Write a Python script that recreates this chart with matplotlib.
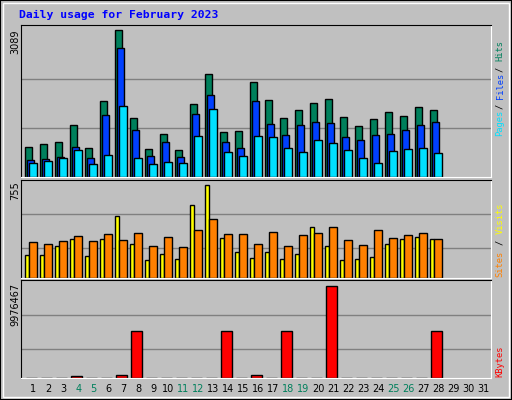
import matplotlib
matplotlib.use("Agg")
import matplotlib.pyplot as plt
import numpy as np

days = list(range(1, 32))
hits  = [636,699,741,1097,615,1600,3089,1244,594,909,573,1538,2166,950,971,1999,1621,1244,1412,1558,1642,1265,1076,1223,1370,1279,1475,1412]
files = [363,384,426,636,405,1307,2712,992,447,741,426,1328,1726,741,615,1600,1118,888,1097,1160,1139,846,783,888,909,992,1097,1160]
pages = [300,342,405,573,280,468,1496,405,280,321,300,867,1433,531,447,867,846,615,531,783,720,573,405,300,552,594,615,510]
visits= [189,189,263,320,181,320,501,279,148,197,156,591,755,328,213,164,213,156,197,410,263,148,156,172,279,320,336,320]
sites = [295,279,304,345,304,361,312,369,263,336,254,386,476,361,361,279,377,263,353,369,418,312,271,386,328,353,369,320]
kbytes= [20000,20000,20000,219000,20000,20000,329000,5043000,20000,20000,20000,20000,20000,5043000,20000,329000,20000,5043000,20000,20000,9976467,20000,20000,20000,20000,20000,20000,5043000]
weekend = [4,5,11,12,18,19,25,26]

W, H = 512, 400
fig = plt.figure(figsize=(W/100, H/100), dpi=100, facecolor="#c0c0c0")
mono = "DejaVu Sans Mono"
GREEN, BLUE, CYAN = "#00805c", "#0040ff", "#00e0ff"
YEL, ORA, RED = "#ffff00", "#ff8000", "#ff0000"

fig.add_artist(plt.Rectangle((0, 0), 1, 1, transform=fig.transFigure, fill=False, ec="black", lw=1.5))
fig.add_artist(plt.Rectangle((3/W, 3/H), 1-6/W, 1-6/H, transform=fig.transFigure, fill=False, ec="white", lw=1))
fig.text(19/W, 1-15/H, "Daily usage for February 2023", color="#0000ff", family=mono,
         weight="bold", fontsize=8.2, va="center", ha="left")

def mkax(top, bot):
    ax = fig.add_axes([21/W, 1-bot/H, 470/W, (bot-top)/H])
    ax.set_facecolor("#c0c0c0")
    ax.set_xlim(0.18, 31.51)
    for s in ax.spines.values():
        s.set_color("black")
    ax.spines["right"].set_color("white"); ax.spines["bottom"].set_color("white")
    ax.set_xticks([]); ax.set_yticks([])
    return ax

x = np.array(days[:28])
kw = dict(align="edge", ec="black", lw=1)
ax1 = mkax(25, 177)
ax1.set_ylim(0, 3089*152/147.2)
for v in [1030, 2060]:
    ax1.axhline(v, color="#808080", lw=1, zorder=0)
ax1.bar(x-0.53, hits, 0.46, color=GREEN, **kw)
ax1.bar(x-0.40, files, 0.47, color=BLUE, **kw)
ax1.bar(x-0.27, pages, 0.49, color=CYAN, **kw)

ax2 = mkax(180, 278)
ax2.set_ylim(0, 755*98/93)
for v in [246, 517]:
    ax2.axhline(v, color="#808080", lw=1, zorder=0)
ax2.bar(x-0.53, visits, 0.27, color=YEL, **kw)
ax2.bar(x-0.27, sites, 0.49, color=ORA, **kw)

ax3 = mkax(280, 378)
ax3.set_ylim(0, 9976467*98/92)
for v in [3179000, 6797000]:
    ax3.axhline(v, color="#808080", lw=1, zorder=0)
ax3.bar(x-0.47, kbytes, 0.70, color=RED, **kw)

for d in days:
    fig.text((33.3+15*(d-1))/W, 1-389/H, str(d), ha="center", va="center", fontsize=7,
             color=GREEN if d in weekend else "black", family="DejaVu Sans")

def left(label, ytop):
    fig.text(15/W, 1-ytop/H, label, rotation=90, ha="center", va="top", fontsize=7, family="DejaVu Sans")
left("3089", 29); left("755", 181); left("9976467", 283)

def right(parts, ybot):
    y = ybot
    cw = 5.35
    for t, c in parts:
        fig.text(500/W, 1-y/H, t, rotation=90, ha="center", va="bottom", fontsize=6.3, color=c, family=mono)
        y -= cw*len(t)
right([("Pages", CYAN), ("/", "black")], 136)
right([("Files", BLUE), ("/", "black")], 136-5.35*7)
right([("Hits", GREEN)], 136-5.35*14)
right([("Sites", ORA)], 277)
right([("/", "black")], 277-5.35*6)
right([("Visits", YEL)], 277-5.35*8)
right([("KBytes", RED)], 377)

fig.savefig("out.png", dpi=100, facecolor=fig.get_facecolor())
